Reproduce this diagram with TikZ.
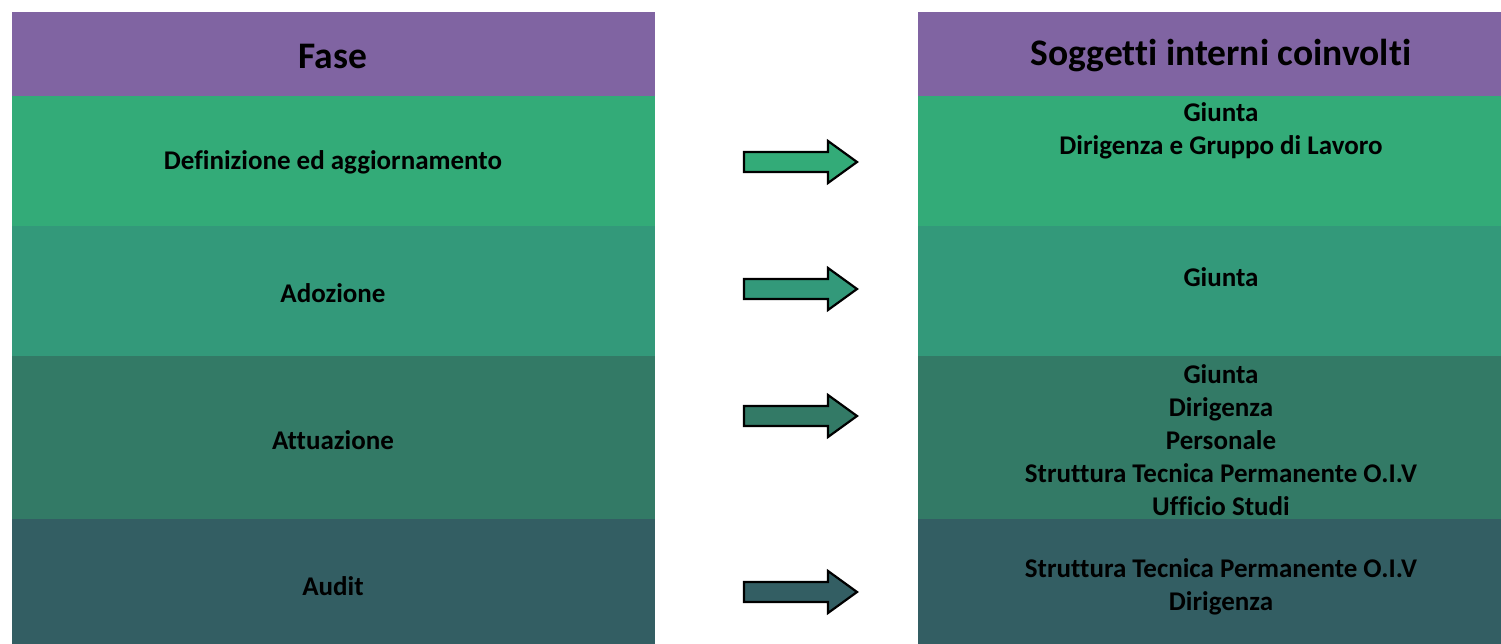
\documentclass[tikz,border=0pt]{standalone}
\usepackage{fontspec}
\setmainfont{Carlito}[Ligatures=NoCommon]
\definecolor{headpurple}{HTML}{8064A2}
\definecolor{rowA}{HTML}{33AB78}
\definecolor{rowB}{HTML}{33997A}
\definecolor{rowC}{HTML}{337A66}
\definecolor{rowD}{HTML}{335E63}
\tikzset{
  headtext/.style={font=\fontsize{37.5}{45}\selectfont\bfseries, text=black, inner sep=0pt, align=center},
  bodytext/.style={font=\fontsize{27}{33}\selectfont\bfseries, text=black, inner sep=0pt, align=center},
  blockarrow/.style={draw=black, line width=2.2pt, line join=miter},
}
\newcommand{\flowarrow}[2]{%
  \draw[blockarrow, fill=#2] (744,#1-10) -- (828,#1-10) -- (828,#1-21) -- (857,#1)
    -- (828,#1+21) -- (828,#1+10) -- (744,#1+10) -- cycle;}
\begin{document}
\begin{tikzpicture}[x=1pt, y=-1pt]
  \useasboundingbox (0,0) rectangle (1501,644);
  \fill[white] (0,0) rectangle (1501,644);

  % left column: phases
  \fill[headpurple] (12,12) rectangle (655,96);
  \fill[rowA] (12,96) rectangle (655,226);
  \fill[rowB] (12,226) rectangle (655,356);
  \fill[rowC] (12,356) rectangle (655,519);
  \fill[rowD] (12,519) rectangle (655,644);

  % right column: internal subjects
  \fill[headpurple] (918,12) rectangle (1501,96);
  \fill[rowA] (918,96) rectangle (1501,226);
  \fill[rowB] (918,226) rectangle (1501,356);
  \fill[rowC] (918,356) rectangle (1501,519);
  \fill[rowD] (918,519) rectangle (1501,644);

  \node[headtext] (fase) at (333,56) {Fase};
  \node[headtext] (sogg) at (1221,56) {Soggetti interni coinvolti};

  \node[bodytext] (def) at (333,162) {Definizione ed aggiornamento};
  \node[bodytext] (ado) at (333,293) {Adozione};
  \node[bodytext] (att) at (333,440) {Attuazione};
  \node[bodytext] (aud) at (333,586) {Audit};

  \node[bodytext] (sdef) at (1221,131) {Giunta\\Dirigenza e Gruppo di Lavoro};
  \node[bodytext] (sado) at (1221,277) {Giunta};
  \node[bodytext] (satt) at (1221,440) {Giunta\\Dirigenza\\Personale\\Struttura Tecnica Permanente O.I.V\\Ufficio Studi};
  \node[bodytext] (saud) at (1221,587) {Struttura Tecnica Permanente O.I.V\\Dirigenza};

  % arrows from each phase to its subjects
  \flowarrow{162}{rowA}
  \flowarrow{289}{rowB}
  \flowarrow{416}{rowC}
  \flowarrow{592}{rowD}
\end{tikzpicture}
\end{document}
